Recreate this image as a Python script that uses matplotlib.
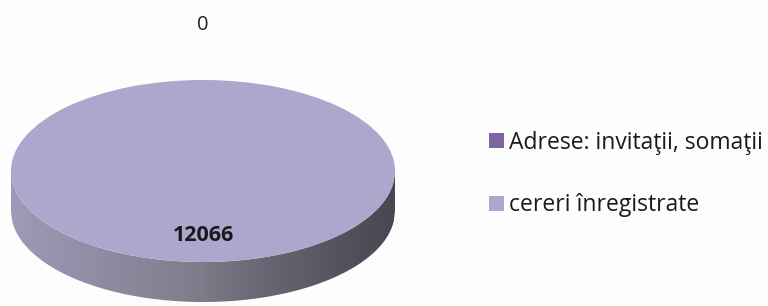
import matplotlib
matplotlib.use("Agg")
import matplotlib.pyplot as plt
from matplotlib.patches import Patch, Polygon
import numpy as np

# date din grafic
categorii = ["Adrese: invitaţii, somaţii", "cereri înregistrate"]
valori = [0, 12066]
culori = ["#8064a2", "#aca7cc"]

plt.rcParams["font.family"] = ["Open Sans", "DejaVu Sans"]

fig = plt.figure(figsize=(7.68, 3.06), dpi=100)
fig.patch.set_facecolor("#fdfdfd")

# axa pentru "pie 3D": elipsa de sus + grosimea
depth = 40 / 91
ax = fig.add_axes([11 / 768, 4 / 306, 384 / 768, 222 / 306])
wedges, _ = ax.pie(valori, colors=culori, startangle=90, counterclock=False,
                   radius=1, wedgeprops=dict(linewidth=0, zorder=3))
ax.set_aspect("auto")
ax.axis("off")

# peretele lateral, cu umbrire de la stanga la dreapta
xs = np.linspace(-1, 1, 300)
top = -np.sqrt(1 - xs ** 2)
side = Polygon(np.column_stack([np.r_[xs, xs[::-1]], np.r_[top, top[::-1] - depth]]),
               closed=True, facecolor="none", edgecolor="none")
ax.add_patch(side)
left_c = np.array([0x9e, 0x9a, 0xb8]) / 255
mid_c = np.array([0x7e, 0x7c, 0x8a]) / 255
right_c = np.array([0x48, 0x47, 0x50]) / 255
grad = []
for t in np.linspace(-1, 1, 512):
    if t < 0:
        grad.append(left_c + (mid_c - left_c) * (t + 1))
    else:
        grad.append(mid_c + (right_c - mid_c) * t ** 0.8)
grad = np.array(grad)[None, :, :]
img = ax.imshow(grad, extent=(-1, 1, -1 - depth, 0), aspect="auto",
                interpolation="bilinear", zorder=1)
img.set_clip_path(side)

# etichete cu valori
for w, v in zip(wedges, valori):
    ang = np.deg2rad((w.theta1 + w.theta2) / 2)
    if v == 0:
        r = 1.6
        ax.text(np.cos(ang) * r, np.sin(ang) * r, str(v), ha="center", va="center",
                fontsize=14.5, color="#222222", clip_on=False)
    else:
        r = 0.71
        ax.text(np.cos(ang) * r, np.sin(ang) * r, str(v), ha="center", va="center",
                fontsize=15.5, fontweight="bold", color="#1a1a1a", zorder=5)

ax.set_xlim(-1, 1)
ax.set_ylim(-1 - depth, 1)

handles = [Patch(facecolor=c, edgecolor="none") for c in culori]
fig.legend(handles, categorii, loc="center left", bbox_to_anchor=(468 / 768, 132 / 306),
           frameon=False, fontsize=16.5, handlelength=0.65, handleheight=0.65,
           handletextpad=0.25, labelspacing=1.68, labelcolor="#1a1a1a")

fig.savefig("out.png", dpi=100, facecolor=fig.get_facecolor())
